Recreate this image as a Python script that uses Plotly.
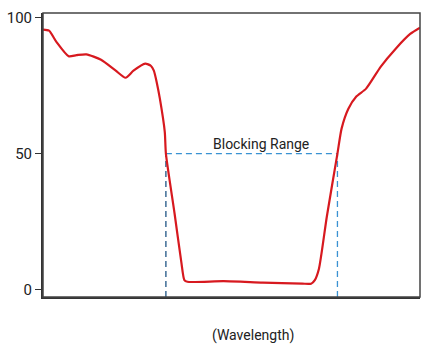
import plotly.graph_objects as go

# Transmission curve of a notch filter, wavelength on an arbitrary 0-100 scale
wavelength = [0.0, 1.6, 3.6, 6.8, 8.9, 11.5, 15.4, 19.3, 21.9, 24.0, 27.1, 28.6,
              29.4, 30.2, 31.0, 32.3, 32.6, 34.9, 36.7, 37.5, 38.3, 47.9, 58.3,
              68.8, 71.1, 72.1, 73.2, 75.3, 78.1, 79.2, 81.0, 83.1, 85.7, 89.6,
              93.5, 97.4, 100.0]
transmission = [95.6, 95.2, 91.0, 85.8, 86.2, 86.5, 84.5, 80.5, 77.9, 80.5, 83.1, 82.3,
                80.5, 76.0, 70.2, 58.0, 50.0, 28.0, 10.0, 3.5, 2.9, 3.1, 2.6,
                2.2, 2.2, 3.5, 7.7, 27.0, 50.0, 59.2, 66.5, 71.0, 73.9, 82.0,
                88.5, 94.0, 96.3]

# Edges of the blocking range (where transmission crosses 50 %)
block_edges = [32.6, 78.1]
half_level = 50
y_ticks = [0, 50, 100]
y_range = [-2.7, 101.7]

FONT = "Roboto, Liberation Sans Narrow, sans-serif"
TEXT = "#222222"
DASH = "6px,4px"

fig = go.Figure()

# dashed guides marking the blocking range
fig.add_trace(go.Scatter(x=block_edges, y=[half_level, half_level], mode="lines",
                         line=dict(color="#3a92d2", width=1.3, dash=DASH),
                         hoverinfo="skip", showlegend=False))
fig.add_trace(go.Scatter(x=[block_edges[0], block_edges[0]], y=[y_range[0], half_level],
                         mode="lines",
                         line=dict(color="#1f5585", width=1.3, dash=DASH),
                         hoverinfo="skip", showlegend=False))
fig.add_trace(go.Scatter(x=[block_edges[1], block_edges[1]], y=[y_range[0], half_level],
                         mode="lines",
                         line=dict(color="#3a92d2", width=1.3, dash=DASH),
                         hoverinfo="skip", showlegend=False))

# transmission curve
fig.add_trace(go.Scatter(x=wavelength, y=transmission, mode="lines",
                         line=dict(color="#d7191f", width=2.2, shape="spline", smoothing=0.6),
                         showlegend=False))

fig.add_annotation(x=(block_edges[0] + block_edges[1]) / 2 + 2.4, y=half_level,
                   xref="x", yref="y", text="Blocking Range", showarrow=False,
                   yanchor="bottom", yshift=0,
                   font=dict(family=FONT, size=14, color=TEXT))
fig.add_annotation(x=0.556, y=-0.137, xref="paper", yref="paper",
                   text="(Wavelength)", showarrow=False,
                   xanchor="center", yanchor="middle",
                   font=dict(family=FONT, size=14, color=TEXT))

# frame around the plotting area
fig.add_shape(type="rect", xref="paper", yref="paper", x0=0, y0=0, x1=1, y1=1,
              line=dict(color="#444444", width=1.5), layer="above")

fig.update_layout(
    width=427, height=349,
    margin=dict(l=36, r=7, t=13, b=52),
    paper_bgcolor="white", plot_bgcolor="white",
    xaxis=dict(range=[0, 100], showticklabels=False, ticks="", showgrid=False,
               zeroline=False, showline=True, linecolor="#333333", linewidth=2),
    yaxis=dict(range=y_range, tickvals=y_ticks, ticks="outside", ticklen=6,
               tickwidth=1.3, tickcolor="#333333", showgrid=False, zeroline=False,
               showline=True, linecolor="#333333", linewidth=2,
               tickfont=dict(family=FONT, size=15, color=TEXT)),
)

fig.write_html("out.html")
